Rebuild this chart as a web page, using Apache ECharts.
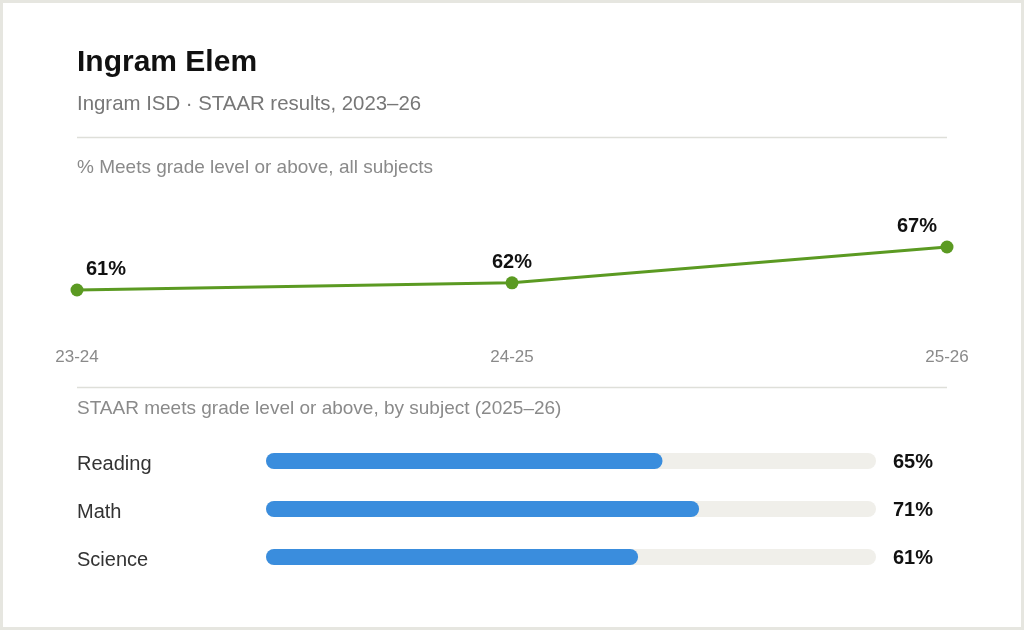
<!DOCTYPE html>
<html>
<head>
<meta charset="utf-8">
<script src="https://cdn.jsdelivr.net/npm/echarts@6/dist/echarts.min.js"></script>
<style>
  html, body { margin: 0; padding: 0; background: #fff; }
  #chart { width: 1024px; height: 630px; box-sizing: border-box; border: 3px solid #e6e6e0; }
</style>
</head>
<body>
<div id="chart"></div>
<script>
// 数据
var years = ['23-24', '24-25', '25-26'];
var meetsAll = [61, 62, 67];
var subjects = ['Reading', 'Math', 'Science'];
var subjectMeets = [65, 71, 61];

var FONT = '"Liberation Sans", Arial, Helvetica, sans-serif';
var GREEN = '#5b9a22';
var BLUE = '#3a8ddd';

var myChart = echarts.init(document.getElementById('chart'));

// 折线标签：首尾点偏移
var lineData = meetsAll.map(function (v, i) {
    var off = [0, 0];
    if (i === 0) off = [29, 0];
    if (i === meetsAll.length - 1) off = [-30, 0];
    return { value: v, label: { offset: off } };
});

myChart.setOption({
    backgroundColor: '#fff',
    animation: false,
    textStyle: { fontFamily: FONT },
    graphic: [
        { type: 'text', left: 74, top: 45, style: { text: 'Ingram Elem', font: 'bold 30px ' + FONT, fill: '#111' } },
        { type: 'text', left: 74, top: 91, style: { text: 'Ingram ISD \u00b7 STAAR results, 2023\u201326', font: '20.4px ' + FONT, fill: '#777' } },
        { type: 'line', shape: { x1: 74, y1: 134.5, x2: 944, y2: 134.5 }, style: { stroke: '#dedfd9', lineWidth: 1.5 } },
        { type: 'text', left: 74, top: 155, style: { text: '% Meets grade level or above, all subjects', font: '19px ' + FONT, fill: '#8a8a8a' } },
        { type: 'line', shape: { x1: 74, y1: 384.5, x2: 944, y2: 384.5 }, style: { stroke: '#dedfd9', lineWidth: 1.5 } },
        { type: 'text', left: 74, top: 396, style: { text: 'STAAR meets grade level or above, by subject (2025\u201326)', font: '19px ' + FONT, fill: '#8a8a8a' } }
    ],
    grid: [
        { left: 74, right: 74, top: 201, height: 129 },
        { left: 263, right: 145, top: 434, height: 144 }
    ],
    xAxis: [
        {
            gridIndex: 0,
            type: 'category',
            data: years,
            boundaryGap: false,
            axisLine: { show: false },
            axisTick: { show: false },
            axisLabel: { color: '#8a8a8a', fontSize: 17, margin: 16 }
        },
        {
            gridIndex: 1,
            type: 'value',
            min: 0,
            max: 100,
            show: false
        }
    ],
    yAxis: [
        { gridIndex: 0, type: 'value', min: 55, max: 73, show: false },
        {
            gridIndex: 1,
            type: 'category',
            data: subjects,
            inverse: true,
            axisLine: { show: false },
            axisTick: { show: false },
            axisLabel: { color: '#333', fontSize: 20, align: 'left', margin: 189, verticalAlign: 'top', lineHeight: 7 }
        },
        {
            gridIndex: 1,
            type: 'category',
            position: 'right',
            data: subjectMeets.map(function (v) { return v + '%'; }),
            inverse: true,
            axisLine: { show: false },
            axisTick: { show: false },
            axisLabel: { color: '#111', fontSize: 20, fontWeight: 'bold', align: 'left', margin: 17, verticalAlign: 'top', lineHeight: 3 }
        }
    ],
    series: [
        {
            type: 'line',
            xAxisIndex: 0,
            yAxisIndex: 0,
            data: lineData,
            symbol: 'circle',
            symbolSize: 13,
            lineStyle: { color: GREEN, width: 3 },
            itemStyle: { color: GREEN },
            label: {
                show: true,
                position: 'top',
                distance: 4,
                formatter: '{c}%',
                color: '#111',
                fontSize: 20,
                fontWeight: 'bold'
            }
        },
        {
            type: 'bar',
            xAxisIndex: 1,
            yAxisIndex: 1,
            data: subjectMeets,
            barWidth: 16,
            itemStyle: { color: BLUE, borderRadius: 8 },
            showBackground: true,
            backgroundStyle: { color: '#f0efea', borderRadius: 8 }
        }
    ]
});
</script>
</body>
</html>
